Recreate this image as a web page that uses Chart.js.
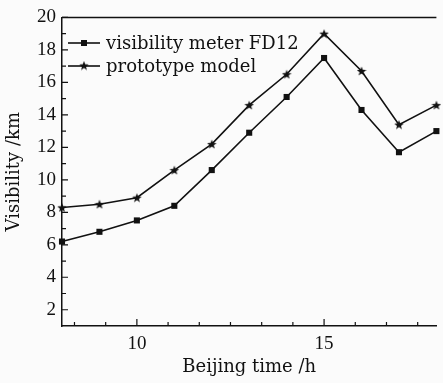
<!DOCTYPE html>
<html>
<head>
<meta charset="utf-8">
<script src="https://cdn.jsdelivr.net/npm/chart.js@4.4.1/dist/chart.umd.min.js"></script>
<style>
  html, body { margin: 0; padding: 0; background: #fbfbfb; }
  #wrap { width: 443px; height: 383px; }
</style>
</head>
<body>
<div id="wrap"><canvas id="visChart" width="443" height="383"></canvas></div>
<script>
// hours of the day
const hours = [8, 9, 10, 11, 12, 13, 14, 15, 16, 17, 18];
// visibility meter FD12 (km)
const fd12 = [6.2, 6.8, 7.5, 8.4, 10.6, 12.9, 15.1, 17.5, 14.3, 11.7, 13.0];
// prototype model (km)
const prototype = [8.3, 8.5, 8.9, 10.6, 12.2, 14.6, 16.5, 19.0, 16.7, 13.4, 14.6];

const seriesNames = ['visibility meter FD12', 'prototype model'];
const xTickValues = [25/3, 55/6, 10, 65/6, 35/3, 12.5, 40/3, 85/6, 15, 95/6, 50/3, 17.5];
const xTickLabels = [10, 15];
const yTickLabels = [2, 4, 6, 8, 10, 12, 14, 16, 18, 20];

const ink = '#111';
const textFont = 'DejaVu Serif';
const numFont = 'Liberation Serif';

// filled five point star used as marker
function makeStar(size) {
  const c = document.createElement('canvas');
  c.width = size; c.height = size;
  const g = c.getContext('2d');
  const cx = size / 2, cy = size / 2 + 0.5;
  const outer = size / 2, inner = outer * 0.42;
  g.beginPath();
  for (let i = 0; i < 10; i++) {
    const r = i % 2 === 0 ? outer : inner;
    const a = -Math.PI / 2 + i * Math.PI / 5;
    const px = cx + r * Math.cos(a), py = cy + r * Math.sin(a);
    if (i === 0) g.moveTo(px, py); else g.lineTo(px, py);
  }
  g.closePath();
  g.fillStyle = ink;
  g.fill();
  return c;
}
const star = makeStar(10);

const isLabelX = v => xTickLabels.some(t => Math.abs(t - v) < 1e-6);

// frame top line, inward ticks and the legend inside the plot
const decor = {
  id: 'decor',
  afterDraw(chart) {
    const { ctx, chartArea: a, scales } = chart;
    ctx.save();
    ctx.strokeStyle = ink;
    ctx.lineWidth = 1.5;
    ctx.beginPath();
    ctx.moveTo(a.left, a.top);
    ctx.lineTo(a.right, a.top);
    ctx.stroke();

    ctx.lineWidth = 1.2;
    ctx.beginPath();
    scales.x.ticks.forEach(t => {
      const px = scales.x.getPixelForValue(t.value);
      const len = isLabelX(t.value) ? 7 : 4;
      ctx.moveTo(px, a.bottom);
      ctx.lineTo(px, a.bottom - len);
    });
    scales.y.ticks.forEach(t => {
      if (t.value <= scales.y.min) return;
      const py = scales.y.getPixelForValue(t.value);
      const len = yTickLabels.includes(t.value) ? 6 : 4;
      ctx.moveTo(a.left, py);
      ctx.lineTo(a.left + len, py);
    });
    ctx.stroke();

    // legend
    const rows = [43, 66];
    ctx.font = '18px "' + textFont + '"';
    ctx.textBaseline = 'middle';
    ctx.fillStyle = ink;
    chart.data.datasets.forEach((ds, i) => {
      const y = rows[i];
      ctx.lineWidth = 1.6;
      ctx.beginPath();
      ctx.moveTo(68, y);
      ctx.lineTo(100, y);
      ctx.stroke();
      if (i === 0) {
        ctx.fillRect(84 - 3, y - 3, 6, 6);
      } else {
        ctx.drawImage(star, 84 - 5, y - 5.5);
      }
      ctx.fillText(ds.label, 106, y + 1);
    });
    ctx.restore();
  }
};

const ctx = document.getElementById('visChart').getContext('2d');

new Chart(ctx, {
  type: 'line',
  data: {
    datasets: [
      {
        label: seriesNames[0],
        data: hours.map((h, i) => ({ x: h, y: fd12[i] })),
        borderColor: ink,
        backgroundColor: ink,
        borderWidth: 1.6,
        pointStyle: 'rect',
        pointRadius: 4.3,
        pointBorderWidth: 0,
        tension: 0,
        clip: false
      },
      {
        label: seriesNames[1],
        data: hours.map((h, i) => ({ x: h, y: prototype[i] })),
        borderColor: ink,
        backgroundColor: ink,
        borderWidth: 1.6,
        pointStyle: star,
        pointRadius: 5,
        tension: 0,
        clip: false
      }
    ]
  },
  options: {
    responsive: false,
    animation: false,
    layout: { padding: { top: 15, right: 0, bottom: 0, left: 0 } },
    plugins: {
      legend: { display: false },
      tooltip: { enabled: false }
    },
    scales: {
      x: {
        type: 'linear',
        min: 8,
        max: 18,
        afterBuildTicks: axis => { axis.ticks = xTickValues.map(v => ({ value: v })); },
        afterFit: s => { s.height = 57; },
        grid: { display: false, drawTicks: false },
        border: { display: true, color: ink, width: 1.5 },
        ticks: {
          autoSkip: false,
          maxRotation: 0,
          padding: 7,
          color: ink,
          font: { family: numFont, size: 19 },
          callback: v => (isLabelX(v) ? Math.round(v) : '')
        },
        title: {
          display: true,
          text: 'Beijing time /h',
          color: ink,
          font: { family: textFont, size: 18 },
          padding: { top: 0, bottom: 5 }
        }
      },
      y: {
        min: 1,
        max: 20,
        afterFit: s => { s.width = 62; },
        grid: { display: false, drawTicks: false },
        border: { display: true, color: ink, width: 1.5 },
        ticks: {
          stepSize: 1,
          autoSkip: false,
          padding: 6,
          color: ink,
          font: { family: numFont, size: 19 },
          callback: v => (yTickLabels.includes(v) ? v : '')
        },
        title: {
          display: true,
          text: 'Visibility /km',
          color: ink,
          font: { family: textFont, size: 18 },
          padding: { top: 4, bottom: 0 }
        }
      }
    }
  },
  plugins: [decor]
});
</script>
</body>
</html>
